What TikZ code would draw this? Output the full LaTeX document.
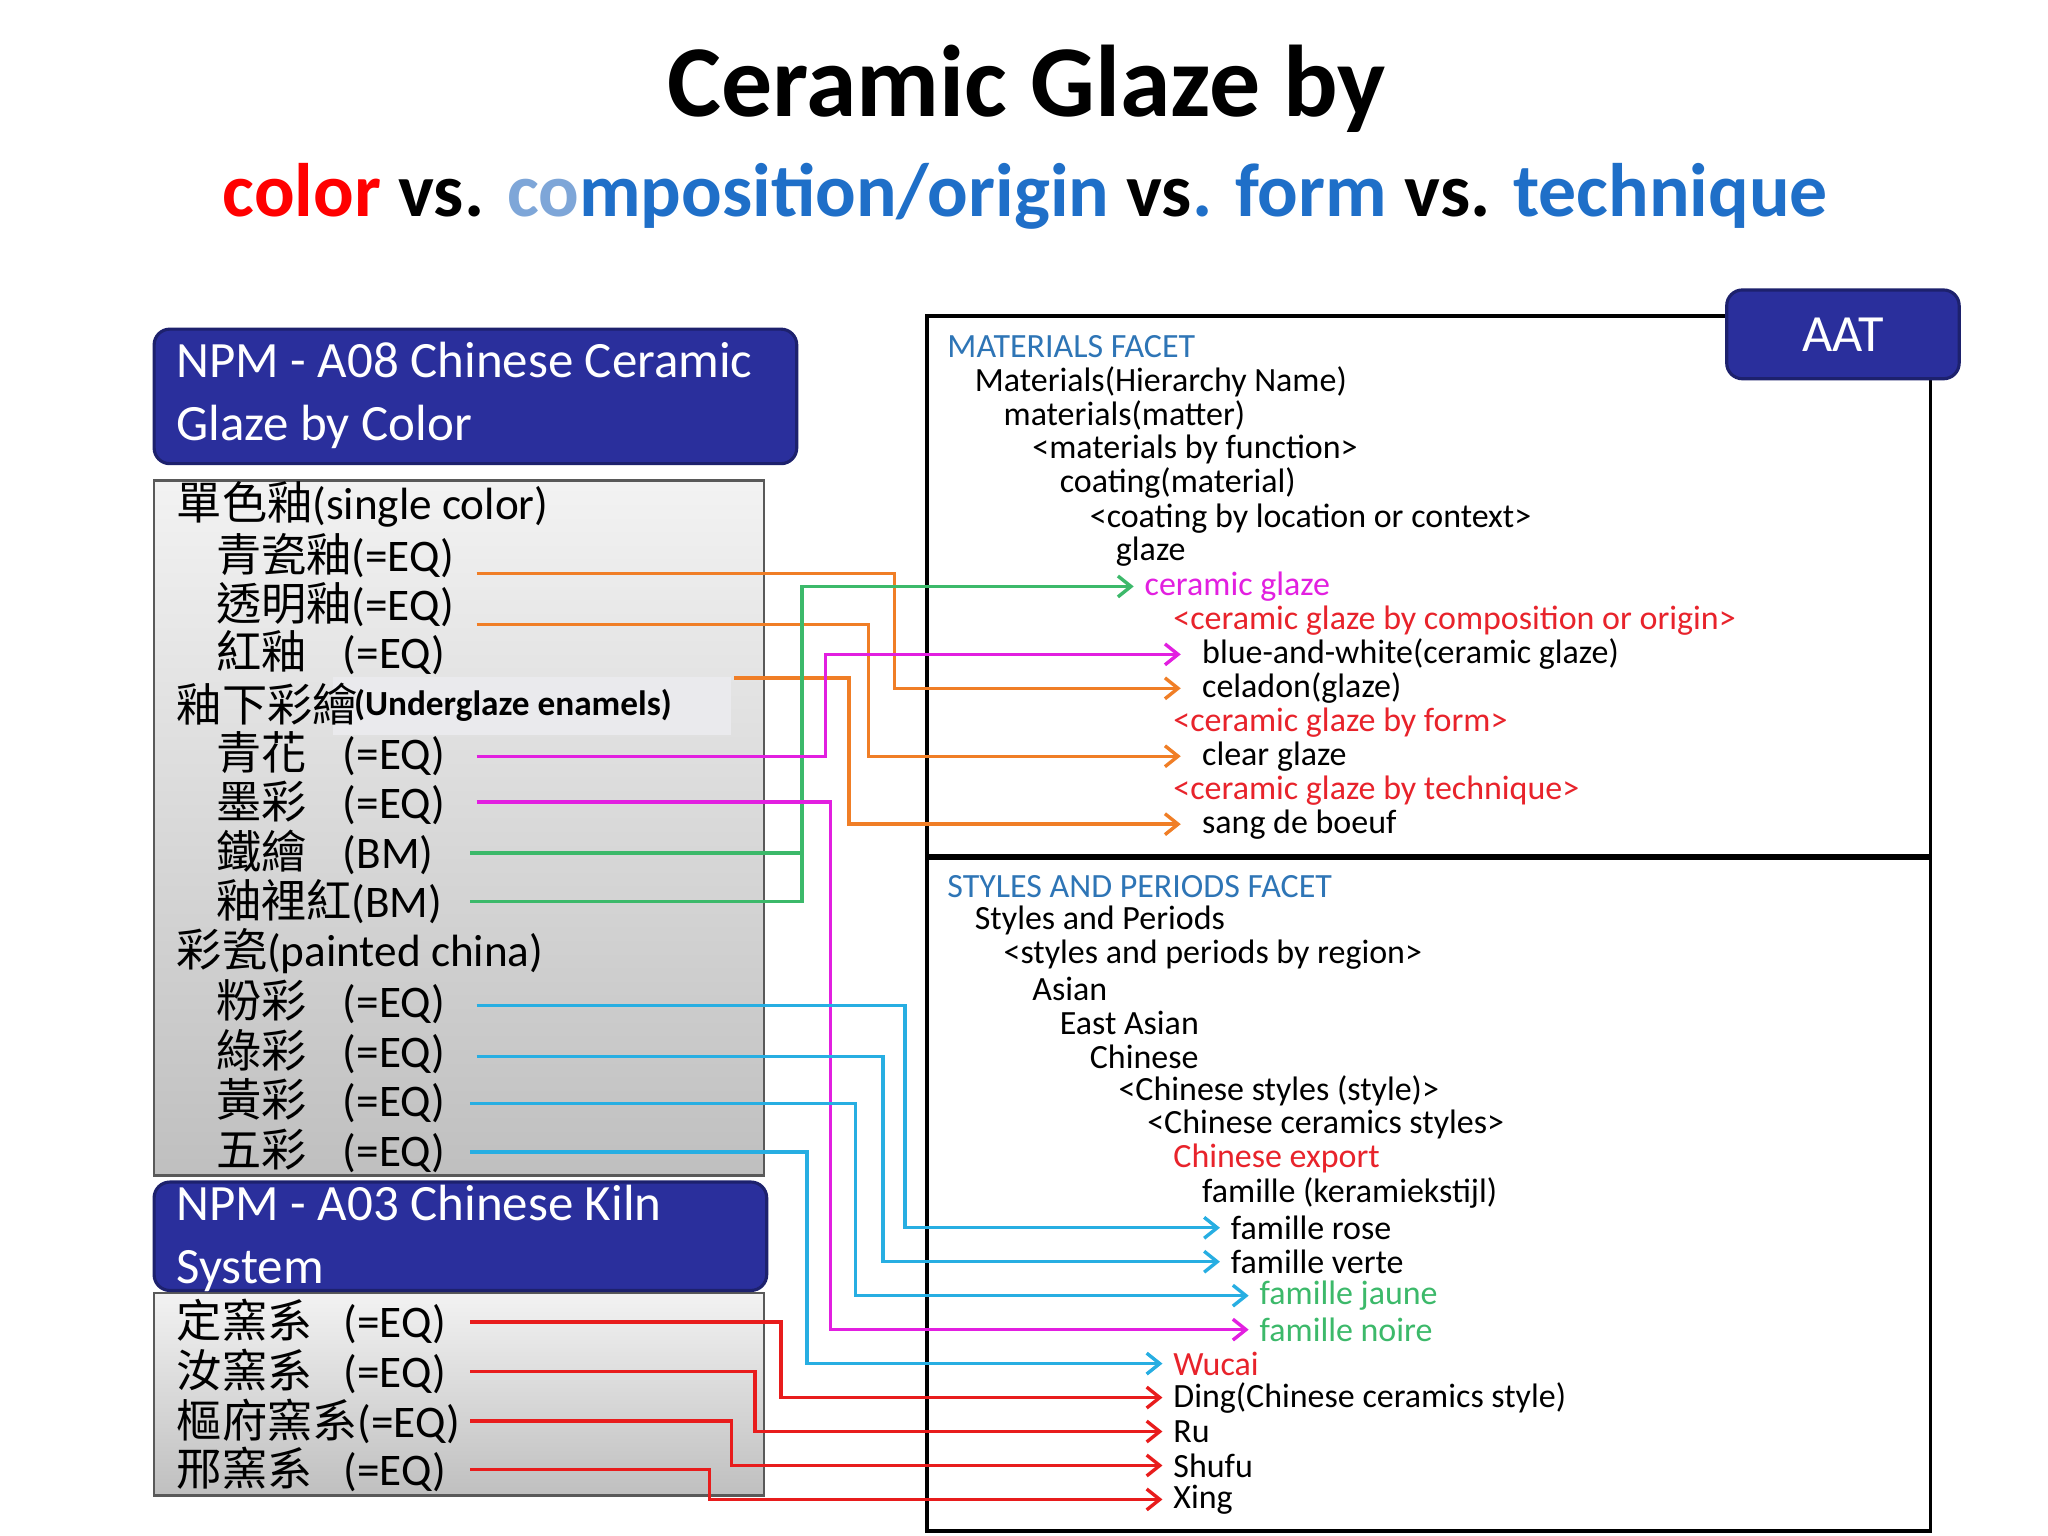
\documentclass[tikz,border=0pt]{standalone}
\usepackage{fontspec}
\setmainfont{Carlito}
\newfontfamily\cjk{Noto Sans CJK TC}
\usetikzlibrary{arrows.meta}
\definecolor{navy}{HTML}{2A2F9C}
\definecolor{fblue}{HTML}{2E75B6}
\definecolor{tblue}{HTML}{1F6FC8}
\definecolor{lblue}{HTML}{7EA6D8}
\definecolor{cred}{HTML}{E81C1C}
\definecolor{cmag}{HTML}{E21FE0}
\definecolor{cora}{HTML}{F07E26}
\definecolor{cgrn}{HTML}{3CB96A}
\definecolor{ccyan}{HTML}{27AEE2}
\definecolor{tred}{HTML}{E8232B}
\begin{document}
\begin{tikzpicture}[x=0.5pt,y=-0.5pt,
 hdr/.style={draw=navy!70!black,line width=1.2pt,fill=navy,rounded corners=6pt},
 hdrtxt/.style={anchor=west,text=white,font=\fontsize{19.5}{24}\selectfont,align=left},
 panel/.style={draw=gray!70!black,line width=1pt,top color=gray!10,bottom color=gray!50},
 lt/.style={anchor=west,font=\fontsize{17.3}{19}\selectfont,inner sep=0pt},
 rt/.style={anchor=west,font=\fontsize{13}{14}\selectfont,inner sep=0pt},
 fbox/.style={draw=black,line width=1.5pt},
 con/.style={line width=1.3pt,-{Straight Barb[length=5pt,width=8pt]}},
 ln/.style={line width=1.3pt}]
\useasboundingbox (0,0) rectangle (1568,1176);
\fill[white] (0,0) rectangle (1568,1176);
% titles
\node[font=\bfseries\fontsize{39}{44}\selectfont] (t1) at (786,68) {Ceramic Glaze by};
\node[font=\bfseries\fontsize{29}{34}\selectfont] (t2) at (785,150) {\textcolor{red}{color} vs. \textcolor{lblue}{co}\textcolor{tblue}{mposition/origin} vs\textcolor{tblue}{. form} vs. \textcolor{tblue}{technique}};
% left panels
\draw[panel] (118,368) rectangle (585,900);
\draw[panel] (118,990) rectangle (585,1145);
\draw[hdr] (118,252) rectangle (610,355);
\node[hdrtxt] (h1) at (128,303) {NPM - A08 Chinese Ceramic\\Glaze by Color};
\draw[hdr] (118,905) rectangle (587,988);
\node[hdrtxt] (h2) at (128,948) {NPM - A03 Chinese Kiln\\System};
\fill[blue!8!gray!15] (255,518) rectangle (560,563);
\node[anchor=west,font=\bfseries\fontsize{13.5}{15}\selectfont] (ue) at (264,540) {(Underglaze enamels)};
\node[lt] (l1) at (135,386) {{\cjk 單色釉}(single color)};
\node[lt] (l2) at (165,425) {{\cjk 青瓷釉}(=EQ)};
\node[lt] (l3) at (165,463) {{\cjk 透明釉}(=EQ)};
\node[lt] (l4) at (165,500) {{\cjk 紅釉}\hspace{14pt}(=EQ)};
\node[lt] (l5) at (135,539) {{\cjk 釉下彩繪}};
\node[lt] (l6) at (165,577) {{\cjk 青花}\hspace{14pt}(=EQ)};
\node[lt] (l7) at (165,615) {{\cjk 墨彩}\hspace{14pt}(=EQ)};
\node[lt] (l8) at (165,653) {{\cjk 鐵繪}\hspace{14pt}(BM)};
\node[lt] (l9) at (165,690) {{\cjk 釉裡紅}(BM)};
\node[lt] (l10) at (135,728) {{\cjk 彩瓷}(painted china)};
\node[lt] (l11) at (165,767) {{\cjk 粉彩}\hspace{14pt}(=EQ)};
\node[lt] (l12) at (165,805) {{\cjk 綠彩}\hspace{14pt}(=EQ)};
\node[lt] (l13) at (165,843) {{\cjk 黃彩}\hspace{14pt}(=EQ)};
\node[lt] (l14) at (165,881) {{\cjk 五彩}\hspace{14pt}(=EQ)};
\node[lt] (k1) at (135,1012) {{\cjk 定窯系}\hspace{12pt}(=EQ)};
\node[lt] (k2) at (135,1050) {{\cjk 汝窯系}\hspace{12pt}(=EQ)};
\node[lt] (k3) at (135,1088) {{\cjk 樞府窯系}(=EQ)};
\node[lt] (k4) at (135,1125) {{\cjk 邢窯系}\hspace{12pt}(=EQ)};
% right boxes
\draw[fbox] (710,242) rectangle (1478,655);
\draw[fbox] (710,657) rectangle (1478,1172);
\draw[hdr] (1322,222) rectangle (1500,290);
\node[text=white,font=\fontsize{20}{22}\selectfont] (aat) at (1411,256) {AAT};
\node[rt,text=fblue] (m0) at (725,265) {MATERIALS FACET};
\node[rt] (m1) at (746,292) {Materials(Hierarchy Name)};
\node[rt] (m2) at (768,318) {materials(matter)};
\node[rt] (m3) at (790,344) {<materials by function>};
\node[rt] (m4) at (811,370) {coating(material)};
\node[rt] (m5) at (834,397) {<coating by location or context>};
\node[rt] (m6) at (854,422) {glaze};
\node[rt,text=cmag] (m7) at (876,449) {ceramic glaze};
\node[rt,text=tred] (m8) at (898,475) {<ceramic glaze by composition or origin>};
\node[rt] (m9) at (920,501) {blue-and-white(ceramic glaze)};
\node[rt] (m10) at (920,527) {celadon(glaze)};
\node[rt,text=tred] (m11) at (898,553) {<ceramic glaze by form>};
\node[rt] (m12) at (920,579) {clear glaze};
\node[rt,text=tred] (m13) at (898,605) {<ceramic glaze by technique>};
\node[rt] (m14) at (920,631) {sang de boeuf};
\node[rt,text=fblue] (s0) at (725,679) {STYLES AND PERIODS FACET};
\node[rt] (s1) at (746,705) {Styles and Periods};
\node[rt] (s2) at (768,731) {<styles and periods by region>};
\node[rt] (s3) at (790,757) {Asian};
\node[rt] (s4) at (811,783) {East Asian};
\node[rt] (s5) at (834,809) {Chinese};
\node[rt] (s6) at (856,835) {<Chinese styles (style)>};
\node[rt] (s7) at (878,861) {<Chinese ceramics styles>};
\node[rt,text=tred] (s8) at (898,887) {Chinese export};
\node[rt] (s9) at (920,913) {famille (keramiekstijl)};
\node[rt] (s10) at (942,940) {famille rose};
\node[rt] (s11) at (942,966) {famille verte};
\node[rt,text=cgrn] (s12) at (964,992) {famille jaune};
\node[rt,text=cgrn] (s13) at (964,1018) {famille noire};
\node[rt,text=tred] (s14) at (898,1044) {Wucai};
\node[rt] (s15) at (898,1070) {Ding(Chinese ceramics style)};
\node[rt] (s16) at (898,1096) {Ru};
\node[rt] (s17) at (898,1122) {Shufu};
\node[rt] (s18) at (898,1148) {Xing};
% connectors
\coordinate (a1) at (365,439); \coordinate (a2) at (365,478); \coordinate (a3) at (562,519);
\draw[con,cora] (a1) -- (685,439) |- ([xshift=-8pt]m10.west);
\draw[con,cora] (a2) -- (665,478) |- ([xshift=-8pt]m12.west);
\draw[con,cora] (a3) -- (650,519) |- ([xshift=-8pt]m14.west);
\coordinate (g1) at (360,653); \coordinate (g2) at (360,690);
\draw[ln,cgrn] (g1) -- (614,653);
\draw[con,cgrn] (g2) -- (614,690) |- ([xshift=-4pt]m7.west);
\coordinate (p1) at (365,579); \coordinate (p2) at (365,614);
\draw[con,cmag] (p1) -- (632,579) |- ([xshift=-8pt]m9.west);
\draw[con,cmag] (p2) -- (636,614) |- ([xshift=-4pt]s13.west);
\coordinate (c1) at (365,770); \coordinate (c2) at (365,809); \coordinate (c3) at (360,845); \coordinate (c4) at (360,882);
\draw[con,ccyan] (c1) -- (693,770) |- ([xshift=-4pt]s10.west);
\draw[con,ccyan] (c2) -- (676,809) |- ([xshift=-4pt]s11.west);
\draw[con,ccyan] (c3) -- (655,845) |- ([xshift=-4pt]s12.west);
\draw[con,ccyan] (c4) -- (618,882) |- ([xshift=-4pt]s14.west);
\coordinate (r1) at (360,1012); \coordinate (r2) at (360,1050); \coordinate (r3) at (360,1088); \coordinate (r4) at (360,1125);
\draw[con,cred] (r1) -- (598,1012) |- ([xshift=-4pt]s15.west);
\draw[con,cred] (r2) -- (578,1050) |- ([xshift=-4pt]s16.west);
\draw[con,cred] (r3) -- (560,1088) |- ([xshift=-4pt]s17.west);
\draw[con,cred] (r4) -- (543,1125) |- ([xshift=-4pt]s18.west);
\end{tikzpicture}
\end{document}
